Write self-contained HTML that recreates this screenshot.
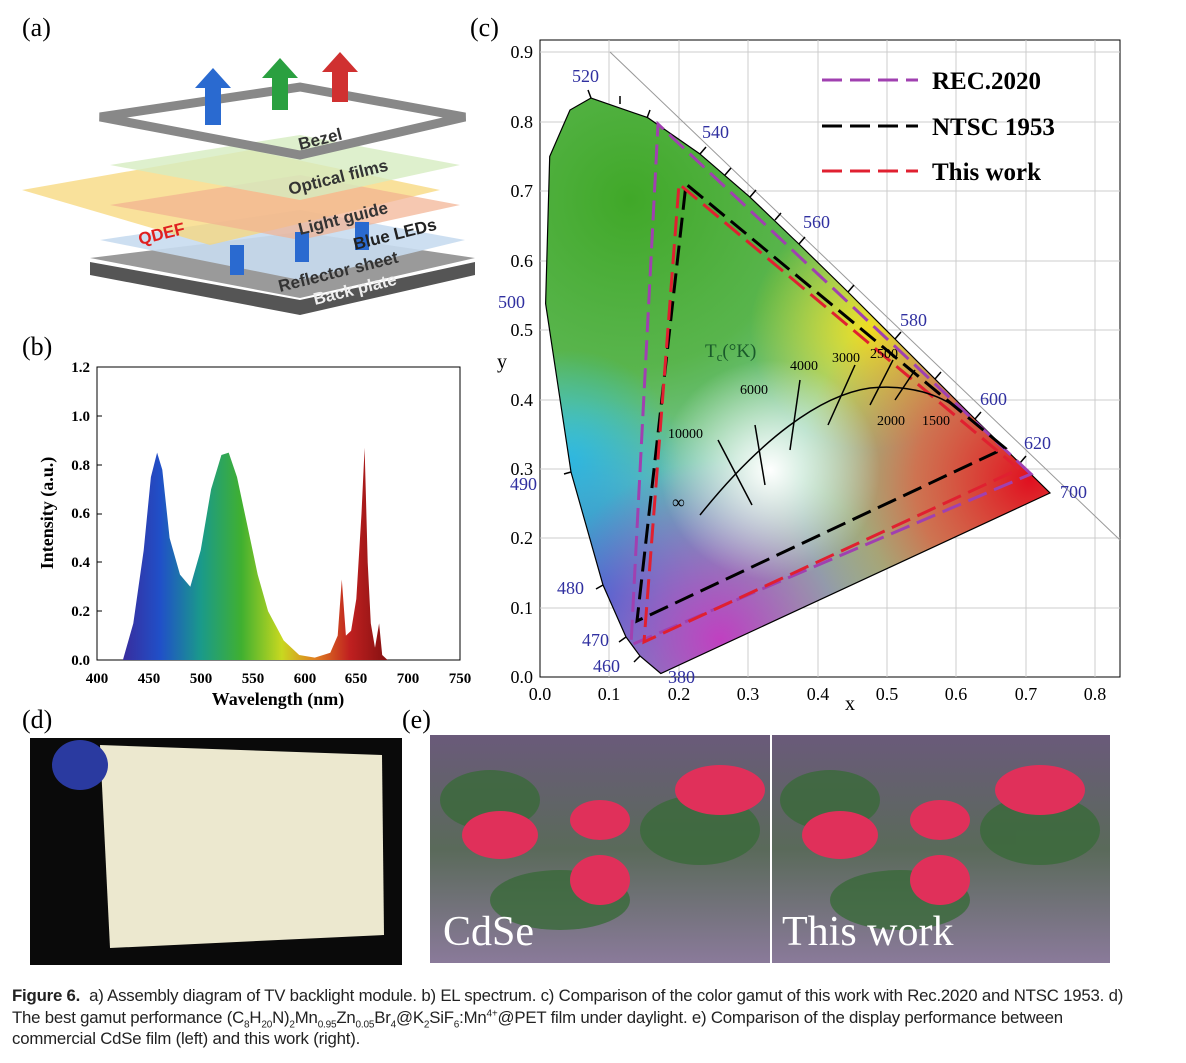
<!DOCTYPE html>
<html><head><meta charset="utf-8"><style>
body{margin:0;background:#fff;width:1186px;height:1063px;overflow:hidden;font-family:"Liberation Sans",sans-serif}
svg{position:absolute;left:0;top:0}
.cap{position:absolute;left:12px;top:985px;font-size:16.8px;line-height:21.5px;color:#222;width:1175px;white-space:nowrap;letter-spacing:-0.2px}
sub,sup{font-size:10px;line-height:0}
</style></head><body>
<svg width="1186" height="1063" viewBox="0 0 1186 1063" font-family="Liberation Serif, serif">
<defs>
<linearGradient id="sp" x1="120" x2="390" y1="0" y2="0" gradientUnits="userSpaceOnUse">
<stop offset="0" stop-color="#3a2a9a"/><stop offset="0.15" stop-color="#2050c8"/><stop offset="0.3" stop-color="#1a9a8a"/><stop offset="0.45" stop-color="#40b030"/><stop offset="0.6" stop-color="#c8d820"/><stop offset="0.72" stop-color="#e08020"/><stop offset="0.85" stop-color="#c02020"/><stop offset="1" stop-color="#801010"/></linearGradient>
<clipPath id="cie"><path d="M660.8,673.5 L640,656 L626,637 L603,585 L571,472 L545.6,303.6 L549.7,156.5 L570,110 L591,98 L647.6,117.6 L699.6,153.7 L749.6,196.8 L798.9,244 L848,292 L895,339 L975,419 L1019.6,463 L1050,493 Z"/></clipPath>
<radialGradient id="g1" cx="630" cy="200" r="280" gradientUnits="userSpaceOnUse"><stop offset="0" stop-color="#40a828"/><stop offset="0.6" stop-color="#50b038" stop-opacity="0.8"/><stop offset="1" stop-color="#4bb030" stop-opacity="0"/></radialGradient>
<radialGradient id="g2" cx="600" cy="600" r="200" gradientUnits="userSpaceOnUse"><stop offset="0" stop-color="#2a70d8"/><stop offset="1" stop-color="#2ab0e0" stop-opacity="0"/></radialGradient>
<radialGradient id="g7" cx="570" cy="460" r="110" gradientUnits="userSpaceOnUse"><stop offset="0" stop-color="#30c0e0"/><stop offset="1" stop-color="#30c0e0" stop-opacity="0"/></radialGradient>
<radialGradient id="g3" cx="1030" cy="480" r="230" gradientUnits="userSpaceOnUse"><stop offset="0" stop-color="#e01020"/><stop offset="0.5" stop-color="#f05030" stop-opacity="0.7"/><stop offset="1" stop-color="#f08030" stop-opacity="0"/></radialGradient>
<radialGradient id="g4" cx="770" cy="470" r="110" gradientUnits="userSpaceOnUse"><stop offset="0" stop-color="#fff"/><stop offset="1" stop-color="#fff" stop-opacity="0"/></radialGradient>
<radialGradient id="g5" cx="720" cy="640" r="180" gradientUnits="userSpaceOnUse"><stop offset="0" stop-color="#c040c0"/><stop offset="1" stop-color="#c040c0" stop-opacity="0"/></radialGradient>
<radialGradient id="g6" cx="870" cy="330" r="120" gradientUnits="userSpaceOnUse"><stop offset="0" stop-color="#f0e020"/><stop offset="1" stop-color="#f0e020" stop-opacity="0"/></radialGradient>
<linearGradient id="ph" x1="0" y1="0" x2="0" y2="1"><stop offset="0" stop-color="#6a5a7a"/><stop offset="0.5" stop-color="#5a6a5a"/><stop offset="1" stop-color="#8a7a9a"/></linearGradient>
</defs>

<!-- (a) -->
<text x="22" y="36" font-size="26">(a)</text>
<polygon points="90,262 300,300 475,262 475,275 300,315 90,275" fill="#555"/>
<polygon points="90,258 300,232 475,258 300,298" fill="#9a9a9a"/>
<polygon points="100,240 300,210 465,240 300,280" fill="#c8dcef" opacity="0.9"/>
<polygon points="22,190 250,150 440,190 210,245" fill="#f7d77a" opacity="0.75"/>
<polygon points="110,205 300,175 460,205 300,240" fill="#f2b090" opacity="0.7"/>
<polygon points="110,165 300,135 460,165 300,200" fill="#d6ecc0" opacity="0.8"/>
<polygon points="100,117 300,87 465,117 300,155" fill="none" stroke="#888" stroke-width="9"/>
<rect x="205" y="85" width="16" height="40" fill="#2a6ad0"/><polygon points="195,88 213,68 231,88" fill="#2a6ad0"/>
<rect x="272" y="75" width="16" height="35" fill="#2aa040"/><polygon points="262,78 280,58 298,78" fill="#2aa040"/>
<rect x="332" y="70" width="16" height="32" fill="#d03030"/><polygon points="322,72 340,52 358,72" fill="#d03030"/>
<rect x="230" y="245" width="14" height="30" fill="#2a6ad0"/><rect x="295" y="232" width="14" height="30" fill="#2a6ad0"/><rect x="355" y="222" width="14" height="28" fill="#2a6ad0"/>
<g font-family="Liberation Sans,sans-serif" font-weight="bold" font-size="17">
<text x="300" y="150" transform="rotate(-14 300 150)" fill="#333">Bezel</text>
<text x="290" y="195" transform="rotate(-14 290 195)" fill="#333">Optical films</text>
<text x="140" y="245" transform="rotate(-14 140 245)" fill="#e02020">QDEF</text>
<text x="300" y="235" transform="rotate(-14 300 235)" fill="#333">Light guide</text>
<text x="355" y="250" transform="rotate(-14 355 250)" fill="#222">Blue LEDs</text>
<text x="280" y="292" transform="rotate(-14 280 292)" fill="#333">Reflector sheet</text>
<text x="315" y="305" transform="rotate(-14 315 305)" fill="#eee">Back plate</text>
</g>

<!-- (b) -->
<text x="22" y="355" font-size="26">(b)</text>
<rect x="97" y="367" width="363" height="293" fill="none" stroke="#000"/>
<path d="M122.9,660 L133.3,623.4 L143.7,550.2 L150.9,477 L157.1,452.6 L162.3,469.7 L169.6,538 L180,574.6 L190.3,586.8 L200.7,550.2 L211.1,489.2 L221.4,455 L228.7,452.6 L237,477 L247.4,525.8 L257.7,574.6 L268.1,611.2 L283.7,640.5 L299.2,655 L314.8,657.6 L330.3,652.7 L337.7,635.6 L341.8,579.5 L345.9,635.6 L351.1,630.7 L356.3,599 L361.5,513.6 L364.6,447.7 L367.7,562.4 L370.8,623.4 L375,647.8 L379.1,623.4 L382.2,655 L387.6,660 Z" fill="url(#sp)"/>
<g font-size="15" font-weight="bold" text-anchor="end">
<text x="90" y="665">0.0</text><text x="90" y="616">0.2</text><text x="90" y="567">0.4</text><text x="90" y="518">0.6</text><text x="90" y="470">0.8</text><text x="90" y="421">1.0</text><text x="90" y="372">1.2</text></g>
<g stroke="#000"><line x1="97" x2="102" y1="611" y2="611"/><line x1="97" x2="102" y1="562" y2="562"/><line x1="97" x2="102" y1="514" y2="514"/><line x1="97" x2="102" y1="465" y2="465"/><line x1="97" x2="102" y1="416" y2="416"/></g>
<g font-size="15" font-weight="bold" text-anchor="middle">
<text x="97" y="683">400</text><text x="149" y="683">450</text><text x="201" y="683">500</text><text x="253" y="683">550</text><text x="305" y="683">600</text><text x="356" y="683">650</text><text x="408" y="683">700</text><text x="460" y="683">750</text>
<text x="278" y="705" font-size="18">Wavelength (nm)</text>
<text x="53" y="513" font-size="18" transform="rotate(-90 53 513)">Intensity (a.u.)</text></g>

<!-- (c) -->
<text x="470" y="36" font-size="26">(c)</text>
<rect x="540" y="40" width="580" height="637" fill="#fff" stroke="#000"/>
<g stroke="#ccc" stroke-width="1">
<line x1="609" x2="609" y1="40" y2="677"/><line x1="679" x2="679" y1="40" y2="677"/><line x1="748" x2="748" y1="40" y2="677"/><line x1="818" x2="818" y1="40" y2="677"/><line x1="887" x2="887" y1="40" y2="677"/><line x1="956" x2="956" y1="40" y2="677"/><line x1="1026" x2="1026" y1="40" y2="677"/><line x1="1095" x2="1095" y1="40" y2="677"/>
<line x1="540" x2="1120" y1="608" y2="608"/><line x1="540" x2="1120" y1="538" y2="538"/><line x1="540" x2="1120" y1="469" y2="469"/><line x1="540" x2="1120" y1="400" y2="400"/><line x1="540" x2="1120" y1="330" y2="330"/><line x1="540" x2="1120" y1="261" y2="261"/><line x1="540" x2="1120" y1="191" y2="191"/><line x1="540" x2="1120" y1="122" y2="122"/><line x1="540" x2="1120" y1="52" y2="52"/>
</g>
<line x1="610" y1="52" x2="1120" y2="540" stroke="#999"/>
<g clip-path="url(#cie)">
<rect x="540" y="90" width="520" height="590" fill="#7cc8a0"/>
<rect x="540" y="90" width="520" height="590" fill="url(#g1)"/>
<rect x="540" y="90" width="520" height="590" fill="url(#g6)"/>
<rect x="540" y="90" width="520" height="590" fill="url(#g7)"/>
<rect x="540" y="90" width="520" height="590" fill="url(#g2)"/>
<rect x="540" y="90" width="520" height="590" fill="url(#g5)"/>
<rect x="540" y="90" width="520" height="590" fill="url(#g3)"/>
<rect x="540" y="90" width="520" height="590" fill="url(#g4)"/>
</g>
<path d="M660.8,673.5 L640,656 L626,637 L603,585 L571,472 L545.6,303.6 L549.7,156.5 L570,110 L591,98 L647.6,117.6 L699.6,153.7 L749.6,196.8 L798.9,244 L848,292 L895,339 L975,419 L1019.6,463 L1050,493 Z" fill="none" stroke="#000" stroke-width="1.2"/>
<g stroke="#000" stroke-width="1.5">
<line x1="591" y1="98" x2="588" y2="90"/><line x1="620" y1="104" x2="620" y2="96"/><line x1="647" y1="118" x2="650" y2="110"/><line x1="700" y1="154" x2="706" y2="147"/><line x1="725" y1="175" x2="731" y2="168"/><line x1="750" y1="197" x2="756" y2="190"/><line x1="775" y1="220" x2="781" y2="213"/><line x1="799" y1="244" x2="805" y2="237"/><line x1="848" y1="292" x2="854" y2="285"/><line x1="895" y1="339" x2="901" y2="332"/><line x1="935" y1="379" x2="941" y2="372"/><line x1="975" y1="419" x2="981" y2="412"/><line x1="1020" y1="463" x2="1026" y2="456"/><line x1="571" y1="472" x2="564" y2="474"/><line x1="603" y1="585" x2="596" y2="589"/><line x1="626" y1="637" x2="619" y2="642"/><line x1="640" y1="656" x2="634" y2="662"/>
</g>
<polygon points="1031,474 658,124 631,645" fill="none" stroke="#a040b0" stroke-width="3" stroke-dasharray="20,8"/>
<polygon points="1005,448 686,184 637,621" fill="none" stroke="#000" stroke-width="3" stroke-dasharray="20,8"/>
<polygon points="1019,469 679,184 644,642" fill="none" stroke="#e02030" stroke-width="3" stroke-dasharray="20,8"/>
<path d="M700,515 C760,440 820,395 870,388 C910,384 940,395 960,410" fill="none" stroke="#000" stroke-width="1.5"/>
<g stroke="#000" stroke-width="1.5"><line x1="718" y1="440" x2="752" y2="505"/><line x1="755" y1="425" x2="765" y2="485"/><line x1="800" y1="380" x2="790" y2="450"/><line x1="855" y1="365" x2="828" y2="425"/><line x1="893" y1="360" x2="870" y2="405"/><line x1="915" y1="370" x2="895" y2="400"/></g>
<g font-size="14"><text x="668" y="438">10000</text><text x="740" y="394">6000</text><text x="790" y="370">4000</text><text x="832" y="362">3000</text><text x="870" y="358">2500</text><text x="877" y="425">2000</text><text x="922" y="425">1500</text><text x="672" y="508" font-size="18">∞</text></g>
<text x="705" y="357" font-size="19" fill="#1a5a2a">T<tspan font-size="13" dy="4">c</tspan><tspan dy="-4">(°K)</tspan></text>
<g font-size="18" fill="#3030a0">
<text x="572" y="82">520</text><text x="702" y="138">540</text><text x="803" y="228">560</text><text x="900" y="326">580</text><text x="980" y="405">600</text><text x="1024" y="449">620</text><text x="1060" y="498">700</text><text x="498" y="308">500</text><text x="510" y="490">490</text><text x="557" y="594">480</text><text x="582" y="646">470</text><text x="593" y="672">460</text><text x="668" y="683">380</text></g>
<g font-size="18" text-anchor="end"><text x="533" y="58">0.9</text><text x="533" y="128">0.8</text><text x="533" y="197">0.7</text><text x="533" y="267">0.6</text><text x="533" y="336">0.5</text><text x="533" y="406">0.4</text><text x="533" y="475">0.3</text><text x="533" y="544">0.2</text><text x="533" y="614">0.1</text><text x="533" y="683">0.0</text></g>
<g font-size="18" text-anchor="middle"><text x="540" y="700">0.0</text><text x="609" y="700">0.1</text><text x="679" y="700">0.2</text><text x="748" y="700">0.3</text><text x="818" y="700">0.4</text><text x="887" y="700">0.5</text><text x="956" y="700">0.6</text><text x="1026" y="700">0.7</text><text x="1095" y="700">0.8</text><text x="850" y="710" font-size="20">x</text><text x="502" y="368" font-size="20">y</text></g>
<g stroke-width="3" stroke-dasharray="20,8"><line x1="822" x2="918" y1="80" y2="80" stroke="#a040b0"/><line x1="822" x2="918" y1="126" y2="126" stroke="#000"/><line x1="822" x2="918" y1="171" y2="171" stroke="#e02030"/></g>
<g font-size="25" font-weight="bold"><text x="932" y="89">REC.2020</text><text x="932" y="135">NTSC 1953</text><text x="932" y="180">This work</text></g>

<!-- (d) -->
<text x="22" y="728" font-size="26">(d)</text>
<rect x="30" y="738" width="372" height="227" fill="#0a0a0a"/>
<polygon points="100,745 382,755 384,935 110,948" fill="#ece8cf"/>
<ellipse cx="80" cy="765" rx="28" ry="25" fill="#2a3aa0"/>

<!-- (e) -->
<text x="402" y="728" font-size="26">(e)</text>
<rect x="430" y="735" width="340" height="228" fill="url(#ph)"/>
<rect x="772" y="735" width="338" height="228" fill="url(#ph)"/>
<g fill="#3a6a3a" opacity="0.8"><ellipse cx="490" cy="800" rx="50" ry="30"/><ellipse cx="700" cy="830" rx="60" ry="35"/><ellipse cx="830" cy="800" rx="50" ry="30"/><ellipse cx="1040" cy="830" rx="60" ry="35"/><ellipse cx="560" cy="900" rx="70" ry="30"/><ellipse cx="900" cy="900" rx="70" ry="30"/></g>
<g fill="#e0305a"><ellipse cx="500" cy="835" rx="38" ry="24"/><ellipse cx="600" cy="820" rx="30" ry="20"/><ellipse cx="720" cy="790" rx="45" ry="25"/><ellipse cx="600" cy="880" rx="30" ry="25"/><ellipse cx="840" cy="835" rx="38" ry="24"/><ellipse cx="940" cy="820" rx="30" ry="20"/><ellipse cx="1040" cy="790" rx="45" ry="25"/><ellipse cx="940" cy="880" rx="30" ry="25"/></g>
<g font-size="42" fill="#fff"><text x="443" y="945">CdSe</text><text x="782" y="945">This work</text></g>
</svg>
<div class="cap"><b>Figure 6.</b>&nbsp; a) Assembly diagram of TV backlight module. b) EL spectrum. c) Comparison of the color gamut of this work with Rec.2020 and NTSC 1953. d)<br>The best gamut performance (C<sub>8</sub>H<sub>20</sub>N)<sub>2</sub>Mn<sub>0.95</sub>Zn<sub>0.05</sub>Br<sub>4</sub>@K<sub>2</sub>SiF<sub>6</sub>:Mn<sup>4+</sup>@PET film under daylight. e) Comparison of the display performance between<br>commercial CdSe film (left) and this work (right).</div>
</body></html>
